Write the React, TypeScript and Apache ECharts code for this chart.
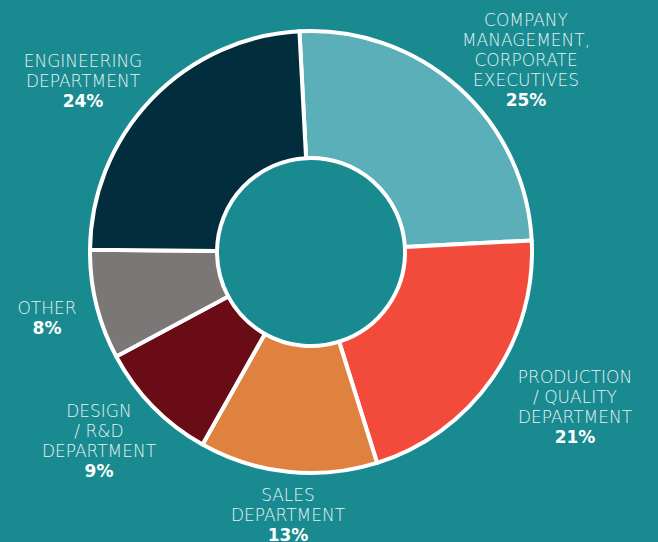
import React, { useEffect, useRef } from "react";
import * as echarts from "echarts";

const categories = [
  "COMPANY\nMANAGEMENT,\nCORPORATE\nEXECUTIVES",
  "PRODUCTION\n/ QUALITY\nDEPARTMENT",
  "SALES\nDEPARTMENT",
  "DESIGN\n/ R&D\nDEPARTMENT",
  "OTHER",
  "ENGINEERING\nDEPARTMENT",
];
const values = [25, 21, 13, 9, 8, 24];
const colors = ["#5bafb9", "#f24a3b", "#e0823f", "#6a0c15", "#7b7777", "#022d3d"];
// label anchor positions (layout only)
const labelPos = [
  [526, 60],
  [575, 407],
  [288, 515],
  [99, 441],
  [47, 318],
  [83, 81],
];

export default function App() {
  const ref = useRef<HTMLDivElement>(null);
  useEffect(() => {
    const chart = echarts.init(ref.current!, null, { renderer: "svg" });
    chart.setOption({
      animation: false,
      backgroundColor: "#188a90",
      series: [
        {
          type: "pie",
          center: [311, 252],
          radius: [94, 221],
          startAngle: 93,
          clockwise: true,
          avoidLabelOverlap: false,
          itemStyle: { borderColor: "#ffffff", borderWidth: 4 },
          label: {
            show: true,
            position: "outside",
            formatter: (p: any) => `{n|${p.name}}\n{p|${p.value}%}`,
            rich: {
              n: {
                fontFamily: "DejaVu Sans",
                fontWeight: 300,
                fontSize: 17,
                color: "#e6f3f3",
                lineHeight: 20,
                align: "center",
              },
              p: {
                fontFamily: "DejaVu Sans",
                fontWeight: "bold",
                fontSize: 17,
                color: "#ffffff",
                lineHeight: 21,
                align: "center",
              },
            },
          },
          labelLine: { show: false },
          labelLayout: (params: any) => {
            const pos = labelPos[params.dataIndex];
            return { x: pos[0], y: pos[1], align: "center", verticalAlign: "middle" };
          },
          emphasis: { disabled: true },
          data: categories.map((name, i) => ({
            name,
            value: values[i],
            itemStyle: { color: colors[i] },
          })),
        },
      ],
    });
    return () => chart.dispose();
  }, []);
  return (
    <div
      ref={ref}
      style={{ position: "fixed", left: 0, top: 0, width: 658, height: 542 }}
    />
  );
}
